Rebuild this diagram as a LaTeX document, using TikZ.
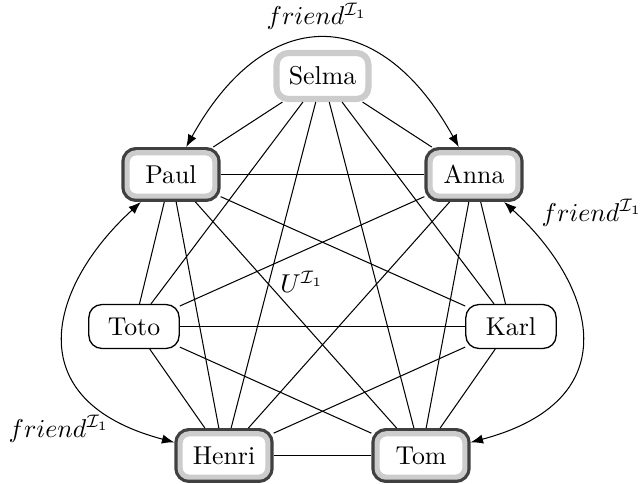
\documentclass[tikz,border=0pt]{standalone}
\usetikzlibrary{arrows.meta}
\begin{document}
\begin{tikzpicture}[x=0.3876pt,y=0.3876pt,
  base/.style={rounded corners=5pt, minimum width=35pt, minimum height=17pt, inner sep=2pt, fill=white},
  plainbox/.style={base, draw=black, line width=0.5pt},
  lightbox/.style={base, draw=black!20, line width=2.4pt, rounded corners=4.5pt, minimum width=35.6pt, minimum height=17.8pt},
  strongbox/.style={base, draw=black!20, line width=2pt, rounded corners=3.5pt, minimum width=34pt, minimum height=16.8pt, outer sep=2.25pt, preaction={draw=black!75, line width=4.5pt}},
  link/.style={draw=black, line width=0.4pt},
  fr/.style={link, {Latex}-{Latex}},
  lbl/.style={inner sep=0pt}
]
\useasboundingbox (0,0) rectangle (641,484);

\node[lightbox]  (Selma) at (322.5,408) {Selma};
\node[strongbox] (Paul)  at (171,309.5) {Paul};
\node[strongbox] (Anna)  at (474,309.5) {Anna};
\node[plainbox]  (Toto)  at (134,157.5) {Toto};
\node[plainbox]  (Karl)  at (511,157.5) {Karl};
\node[strongbox] (Henri) at (224,28.5) {Henri};
\node[strongbox] (Tom)   at (421,28.5) {Tom};

\foreach \a/\b in {Selma/Paul, Selma/Anna, Selma/Toto, Selma/Karl, Selma/Henri, Selma/Tom,
  Paul/Anna, Paul/Toto, Paul/Karl, Paul/Henri, Paul/Tom,
  Anna/Toto, Anna/Karl, Anna/Henri, Anna/Tom,
  Toto/Karl, Toto/Henri, Toto/Tom, Karl/Henri, Karl/Tom, Henri/Tom}
  \draw[link] (\a) -- (\b);

\draw[fr] (Paul) .. controls (266,481) and (379,481) .. (Anna);
\draw[fr] (Paul) .. controls (50,199) and (15,84) .. (Henri);
\draw[fr] (Anna) .. controls (595,199) and (630,84) .. (Tom);

\node[lbl] (ftop) at (317,467.5) {$friend^{\mathcal{I}_1}$};
\node[lbl] (fright) at (592,271) {$friend^{\mathcal{I}_1}$};
\node[lbl] (fleft) at (59,55) {$friend^{\mathcal{I}_1}$};
\node[lbl] (uall) at (302,202) {$U^{\mathcal{I}_1}$};
\end{tikzpicture}
\end{document}
